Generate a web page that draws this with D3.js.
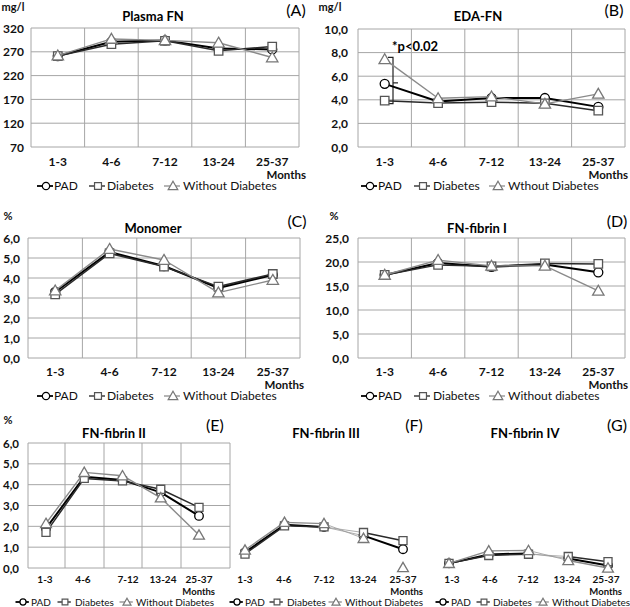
<!DOCTYPE html>
<html><head><meta charset="utf-8">
<script src="https://cdn.jsdelivr.net/npm/d3@7"></script>
<style>
body{margin:0;background:#fff;}
text{font-family:Lato,"Open Sans",sans-serif;}
</style></head>
<body><svg id="c" width="630" height="607"></svg>
<script>
const categories = ["1-3","4-6","7-12","13-24","25-37"];
const seriesNames = ["PAD","Diabetes","Without Diabetes"];

const plasmaPAD     = [261, 291, 294, 277, 275];
const plasmaDiab    = [261, 286, 293, 272, 281];
const plasmaWithout = [262, 297, 294, 289, 258];
const plasmaTicks   = [70, 120, 170, 220, 270, 320];

const edaPAD     = [5.35, 3.85, 4.15, 4.15, 3.40];
const edaDiab    = [3.93, 3.72, 3.80, 3.70, 3.08];
const edaWithout = [7.43, 4.13, 4.27, 3.65, 4.50];
const edaTicks   = [0, 2, 4, 6, 8, 10];

const monoPAD     = [3.30, 5.30, 4.60, 3.50, 4.15];
const monoDiab    = [3.18, 5.23, 4.57, 3.57, 4.20];
const monoWithout = [3.37, 5.45, 4.90, 3.27, 3.90];
const monoTicks   = [0, 1, 2, 3, 4, 5, 6];

const fib1PAD     = [17.3, 19.8, 19.0, 19.5, 17.85];
const fib1Diab    = [17.3, 19.4, 19.1, 19.7, 19.6];
const fib1Without = [17.3, 20.4, 19.2, 19.2, 14.0];
const fib1Ticks   = [0, 5, 10, 15, 20, 25];

const fib2PAD     = [1.90, 4.38, 4.22, 3.63, 2.50];
const fib2Diab    = [1.71, 4.30, 4.18, 3.78, 2.91];
const fib2Without = [2.14, 4.59, 4.43, 3.37, 1.58];
const fib2Ticks   = [0, 1, 2, 3, 4, 5, 6];

const fib3PAD     = [0.80, 2.12, 2.02, 1.60, 0.95];
const fib3Diab    = [0.72, 2.07, 2.02, 1.75, 1.36];
const fib3Without = [0.91, 2.24, 2.18, 1.47, 0.07];

const fib4PAD     = [0.27, 0.70, 0.75, 0.50, 0.17];
const fib4Diab    = [0.27, 0.65, 0.71, 0.60, 0.35];
const fib4Without = [0.27, 0.87, 0.89, 0.41, 0.05];

const svg = d3.select("#c");
const comma = v => d3.format(".1f")(v).replace(".", ",");

const styles = [
  {stroke:"#000", width:2.0, mstroke:"#000", shape:d3.symbolCircle, size:64},
  {stroke:"#2a2a2a", width:1.5, mstroke:"#555", shape:d3.symbolSquare, size:72},
  {stroke:"#8a8a8a", width:1.4, mstroke:"#777", shape:d3.symbolTriangle, size:56}
];

// entries: [marker centre x, text x]
function drawLegend(y, names, fs, entries){
  const g = svg.append("g");
  const k = fs/12;
  names.forEach((n,i)=>{
    const st = styles[i];
    const [c,tx] = entries[i];
    g.append("line").attr("x1",c-9*k).attr("x2",c+7*k).attr("y1",y).attr("y2",y)
      .attr("stroke",st.stroke).attr("stroke-width",st.width*0.9);
    g.append("path").attr("d",d3.symbol(st.shape, (i===0?42:i===1?48:40)*k*k)())
      .attr("transform",`translate(${c},${y+(i===2?0.8:0)})`)
      .attr("fill","#fff").attr("stroke",st.mstroke).attr("stroke-width",1.2);
    g.append("text").attr("x",tx).attr("y",y+fs*0.36).attr("font-size",fs)
      .attr("fill","#111").text(n);
  });
}

function drawSeries(g, x, y, data, opts={}){
  data.forEach((vals,i)=>{
    const st = styles[i];
    const pts = vals.map((v,j)=>[x(categories[j]), y(v)]);
    for(let j=0;j<pts.length-1;j++){
      if(opts.skip && opts.skip(i,j)) continue;
      const faint = opts.faint && opts.faint(j);
      g.append("line").attr("x1",pts[j][0]).attr("y1",pts[j][1])
        .attr("x2",pts[j+1][0]).attr("y2",pts[j+1][1])
        .attr("stroke", faint ? "#999" : st.stroke)
        .attr("stroke-width", faint ? 0.8 : st.width)
        .attr("stroke-linecap","round");
    }
    pts.forEach(p=>{
      g.append("path").attr("d",d3.symbol(st.shape, st.size*(opts.msc||1))())
        .attr("transform",`translate(${p[0]},${p[1]+(i===2?1:0)})`)
        .attr("fill","#fff").attr("stroke",st.mstroke).attr("stroke-width",1.3);
    });
  });
}

function gridPanel(p){
  const g = svg.append("g");
  const x = d3.scaleBand().domain(categories).range([p.left,p.right]);
  const xc = c => x(c) + x.bandwidth()/2;
  const y = d3.scaleLinear().domain([p.ticks[0], p.ticks[p.ticks.length-1]]).range([p.bottom,p.top]);
  p.ticks.forEach(t=>{
    g.append("line").attr("x1",p.left).attr("x2",p.right).attr("y1",y(t)).attr("y2",y(t))
      .attr("stroke","#a6a6a6").attr("stroke-width",1);
  });
  const vx = p.vgrid ? p.vgrid : categories.map(c=>x(c)).concat([p.right]);
  vx.forEach(v=>{
    g.append("line").attr("x1",v).attr("x2",v).attr("y1",p.top).attr("y2",p.bottom)
      .attr("stroke","#a6a6a6").attr("stroke-width",1);
  });
  p.ticks.forEach(t=>{
    g.append("text").attr("x",p.tickRight).attr("y",y(t)+4.5).attr("text-anchor","end")
      .attr("font-size",p.fs).attr("font-weight","bold").attr("fill","#111")
      .text(p.fmt ? p.fmt(t) : t);
  });
  return {g, x: p.xpoint ? p.xpoint : xc, y};
}

function labels(p){
  const g = svg.append("g");
  if(p.unit) g.append("text").attr("x",p.unit[0]).attr("y",p.unit[1]).attr("text-anchor","middle")
      .attr("font-size",p.ufs||11).attr("font-weight","bold").attr("fill","#111").text(p.unitText);
  g.append("text").attr("x",p.title[0]).attr("y",p.title[1]).attr("text-anchor","middle")
    .attr("font-size",p.tfs||13).attr("font-weight","bold").attr("fill","#000").text(p.titleText);
  g.append("text").attr("x",p.letter[0]).attr("y",p.letter[1]).attr("text-anchor","middle")
    .attr("font-size",p.lfs||16).attr("fill","#000").text(p.letterText);
  p.catX.forEach((cx,i)=>{
    g.append("text").attr("x",cx).attr("y",p.catY).attr("text-anchor","middle")
      .attr("font-size",p.cfs).attr("font-weight","bold").attr("fill","#111").text(categories[i]);
  });
  g.append("text").attr("x",p.months[0]).attr("y",p.months[1]).attr("text-anchor","end")
    .attr("font-size",p.mfs).attr("font-weight","bold").attr("fill","#111").text("Months");
  return g;
}

// ---------- Panel A ----------
{
  const P = {left:31,right:299,top:28,bottom:147,ticks:plasmaTicks,tickRight:24,fs:12};
  const {g,x,y} = gridPanel(P);
  drawSeries(g,x,y,[plasmaPAD,plasmaDiab,plasmaWithout]);
  labels({unit:[13,11],unitText:"mg/l",title:[153,21],titleText:"Plasma FN",letter:[296,16],letterText:"(A)",
    catX:categories.map(x),catY:166,cfs:12,months:[306,178.5],mfs:11.5});
  drawLegend(186,seriesNames,12,[[46,54],[98,107],[173,183]]);
}
// ---------- Panel B ----------
{
  const P = {left:358,right:625,top:29,bottom:147,ticks:edaTicks,tickRight:348,fs:12,fmt:comma};
  const {g,x,y} = gridPanel(P);
  const bx = 393;
  g.append("path").attr("d",`M${bx-5},${y(edaWithout[0])-2}H${bx}V${y(edaDiab[0])+3}H${bx-5}`)
    .attr("fill","none").attr("stroke","#222").attr("stroke-width",1.2);
  g.append("path").attr("d",`M${bx+5},${y(edaPAD[0])-1}H${bx}`)
    .attr("fill","none").attr("stroke","#222").attr("stroke-width",1.2);
  g.append("text").attr("x",392).attr("y",51).attr("font-size",13).attr("font-weight","bold").text("*p<0.02");
  drawSeries(g,x,y,[edaPAD,edaDiab,edaWithout]);
  labels({unit:[330,11],unitText:"mg/l",title:[478,21],titleText:"EDA-FN",letter:[614,16],letterText:"(B)",
    catX:categories.map(x),catY:166,cfs:12,months:[628,178.5],mfs:11.5});
  drawLegend(186,["PAD","Diabetes","Wthout Diabetes"],12,[[370,378],[423,433],[498,508]]);
}
// ---------- Panel C ----------
{
  const P = {left:28,right:300,top:238,bottom:358,ticks:monoTicks,tickRight:20,fs:12,fmt:comma};
  const {g,x,y} = gridPanel(P);
  drawSeries(g,x,y,[monoPAD,monoDiab,monoWithout]);
  labels({unit:[8,220],unitText:"%",title:[153,233],titleText:"Monomer",letter:[297,227],letterText:"(C)",
    catX:categories.map(x),catY:376,cfs:12,months:[304,388.5],mfs:11.5});
  drawLegend(396,seriesNames,12,[[46,54],[98,107],[173,183]]);
}
// ---------- Panel D ----------
{
  const P = {left:358,right:625,top:238,bottom:358,ticks:fib1Ticks,tickRight:349,fs:12,fmt:comma};
  const {g,x,y} = gridPanel(P);
  drawSeries(g,x,y,[fib1PAD,fib1Diab,fib1Without]);
  labels({unit:[334,220],unitText:"%",title:[477,233],titleText:"FN-fibrin I",letter:[617,227],letterText:"(D)",
    catX:categories.map(x),catY:376,cfs:12,months:[628,388.5],mfs:11.5});
  drawLegend(396,["PAD","Diabetes","Without diabetes"],12,[[370,378],[423,433],[498,508]]);
}
// ---------- Panel E ----------
{
  const xp = d3.scalePoint().domain(categories).range([46,199]);
  const P = {left:28,right:230,top:443,bottom:568,ticks:fib2Ticks,tickRight:19,fs:11.5,fmt:comma,
             xpoint:xp, vgrid:[28,65,104,142,181,230]};
  const {g,x,y} = gridPanel(P);
  drawSeries(g,x,y,[fib2PAD,fib2Diab,fib2Without],{msc:0.9});
  labels({unit:[8,424],unitText:"%",title:[114,438],titleText:"FN-fibrin II",letter:[215,431],letterText:"(E)",
    catX:[45,83,128,163,199],catY:583,cfs:10,months:[215,594.5],mfs:9.5});
  drawLegend(602,seriesNames,10,[[23,31],[65,75],[127,136]]);
}
// ---------- Panel F ----------
{
  const g = svg.append("g");
  const x = d3.scalePoint().domain(categories).range([245,403]);
  const y = d3.scaleLinear().domain([0,6]).range([569,444]);
  drawSeries(g,x,y,[fib3PAD,fib3Diab,fib3Without],{msc:0.9,faint:j=>j===2,skip:(i,j)=>i===2&&j===3});
  labels({title:[326,438],titleText:"FN-fibrin III",letter:[414,431],letterText:"(F)",
    catX:[245,284,324,363,403],catY:583,cfs:10,months:[423,594.5],mfs:9.5});
  drawLegend(602,seriesNames,10,[[237,245],[277,287],[336,345]]);
}
// ---------- Panel G ----------
{
  const g = svg.append("g");
  const x = d3.scalePoint().domain(categories).range([449,608]);
  const y = d3.scaleLinear().domain([0,6]).range([569,444]);
  drawSeries(g,x,y,[fib4PAD,fib4Diab,fib4Without],{msc:0.9,faint:j=>j===2});
  labels({title:[525,438],titleText:"FN-fibrin IV",letter:[617,431],letterText:"(G)",
    catX:[452,490,528,567,606],catY:583,cfs:10,months:[622,594.5],mfs:9.5});
  drawLegend(602,seriesNames,10,[[443,451],[484,493],[543,552]]);
}
</script></body></html>
